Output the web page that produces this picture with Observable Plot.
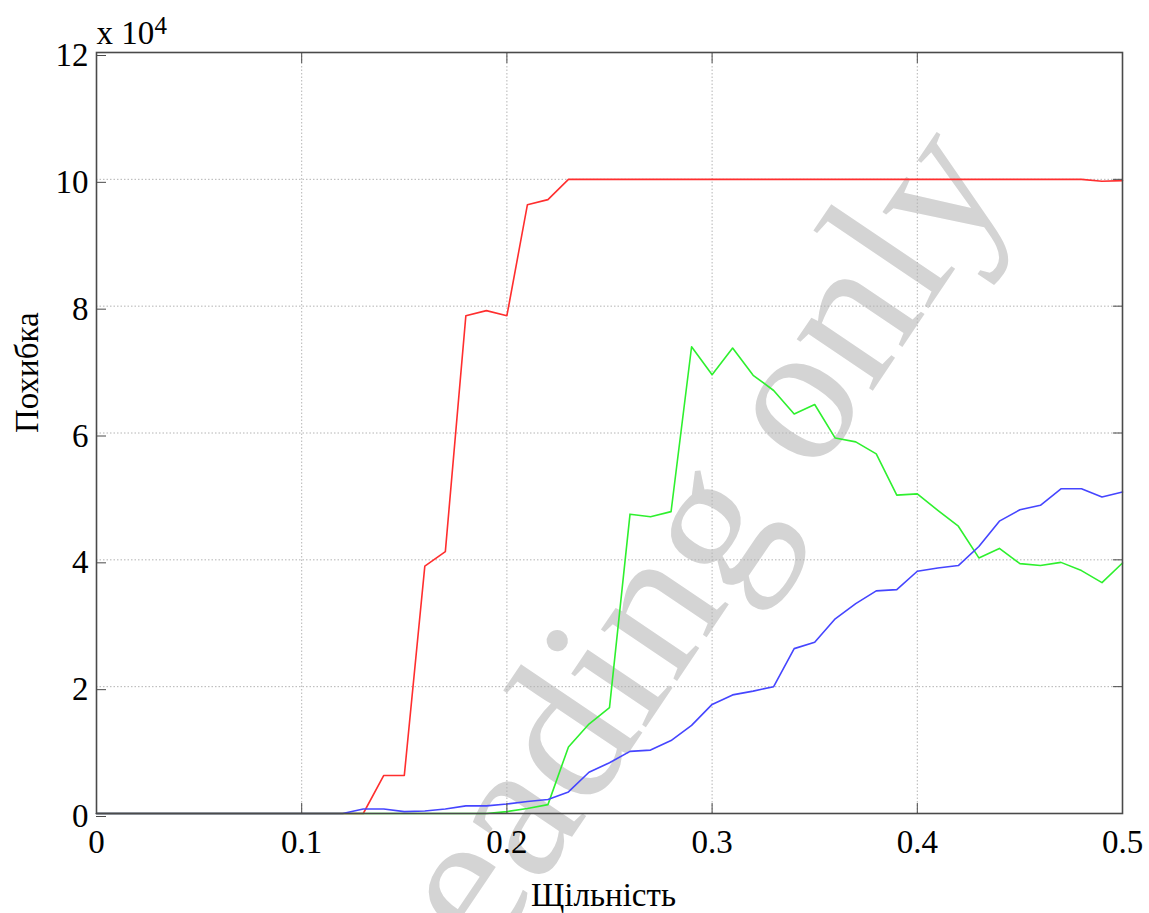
<!DOCTYPE html>
<html>
<head>
<meta charset="utf-8">
<script src="https://cdn.jsdelivr.net/npm/d3@7"></script>
<script src="https://cdn.jsdelivr.net/npm/@observablehq/plot@0.6"></script>
<style>
  html, body { margin: 0; padding: 0; background: #fff; }
  #chart svg { display: block; }
</style>
</head>
<body>
<div id="chart"></div>
<script>
// Density values (x axis)
const density = [
  0.00, 0.01, 0.02, 0.03, 0.04, 0.05, 0.06, 0.07, 0.08, 0.09,
  0.10, 0.11, 0.12, 0.13, 0.14, 0.15, 0.16, 0.17, 0.18, 0.19,
  0.20, 0.21, 0.22, 0.23, 0.24, 0.25, 0.26, 0.27, 0.28, 0.29,
  0.30, 0.31, 0.32, 0.33, 0.34, 0.35, 0.36, 0.37, 0.38, 0.39,
  0.40, 0.41, 0.42, 0.43, 0.44, 0.45, 0.46, 0.47, 0.48, 0.49, 0.50
];

// Error values, in units of 10^4
const errA = [
  0, 0, 0, 0, 0, 0, 0, 0, 0, 0,
  0, 0, 0, 0, 0.6, 0.6, 3.9, 4.13, 7.85, 7.93,
  7.85, 9.6, 9.68, 10, 10, 10, 10, 10, 10, 10,
  10, 10, 10, 10, 10, 10, 10, 10, 10, 10,
  10, 10, 10, 10, 10, 10, 10, 10, 10, 9.97, 9.98
];
const errB = [
  0, 0, 0, 0, 0, 0, 0, 0, 0, 0,
  0, 0, 0, 0, 0, 0, 0, 0, 0, 0,
  0.03, 0.08, 0.14, 1.05, 1.41, 1.67, 4.72, 4.68, 4.76, 7.36,
  6.92, 7.34, 6.91, 6.67, 6.30, 6.45, 5.92, 5.86, 5.67, 5.02,
  5.04, 4.78, 4.53, 4.03, 4.18, 3.94, 3.91, 3.96, 3.83, 3.64, 3.95
];
const errC = [
  0, 0, 0, 0, 0, 0, 0, 0, 0, 0,
  0, 0, 0, 0.07, 0.07, 0.03, 0.04, 0.07, 0.12, 0.12,
  0.15, 0.19, 0.22, 0.34, 0.65, 0.80, 0.98, 1.00, 1.15, 1.39,
  1.72, 1.87, 1.93, 2.00, 2.60, 2.70, 3.07, 3.31, 3.51, 3.53,
  3.82, 3.87, 3.91, 4.21, 4.61, 4.79, 4.86, 5.12, 5.12, 4.99, 5.07
];

const xTicks = [0, 0.1, 0.2, 0.3, 0.4, 0.5];
const yTicks = [0, 2, 4, 6, 8, 10, 12];
const xGrid = [0.1, 0.2, 0.3, 0.4];
const yGrid = [2, 4, 6, 8, 10];

const xLabel = "Щільність";
const yLabel = "Похибка";
const yExponentBase = "x 10";
const yExponent = "4";
const watermark = "Reading only";

const series = [
  {key: "A", color: "#ff2e2e", values: errA},
  {key: "B", color: "#2ef02e", values: errB},
  {key: "C", color: "#4545ff", values: errC}
];

const serif = "'Liberation Serif', 'Times New Roman', serif";
const axisColor = "#4a4a4a";

const curves = series.map(s =>
  Plot.line(density.map((d, i) => ({x: d, y: s.values[i]})), {x: "x", y: "y", stroke: s.color, strokeWidth: 1.6})
);

const chart = Plot.plot({
  width: 1149,
  height: 913,
  marginLeft: 96,
  marginRight: 27,
  marginTop: 52,
  marginBottom: 100,
  style: {fontFamily: serif, fontSize: "33px", color: "#000", background: "#fff", overflow: "visible"},
  x: {domain: [0, 0.5]},
  y: {domain: [0, 12]},
  marks: [
    // background watermark
    Plot.text([watermark], {
      frameAnchor: "middle", text: d => d, dx: 104, dy: 194,
      rotate: -56, lineAnchor: "bottom", fontSize: 200,
      fontFamily: serif, fill: "#d4d4d4"
    }),
    // dotted grid
    Plot.gridX({ticks: xGrid, stroke: "#b4b4b4", strokeOpacity: 1, strokeDasharray: "1.5,2"}),
    Plot.gridY({ticks: yGrid, stroke: "#b4b4b4", strokeOpacity: 1, strokeDasharray: "1.5,2"}),
    // error curves
    ...curves,
    // axes with inward ticks
    Plot.axisX({anchor: "bottom", ticks: xTicks, tickSize: -10, tickPadding: 26, stroke: axisColor,
      tickFormat: d => String(d), label: null, fontSize: 33}),
    Plot.axisX({anchor: "top", ticks: xTicks, tickSize: -10, stroke: axisColor, tickFormat: () => "", label: null}),
    Plot.axisY({anchor: "left", ticks: yTicks, tickSize: -10, tickPadding: 18, stroke: axisColor,
      tickFormat: d => String(d), label: null, fontSize: 33, dy: 3}),
    Plot.axisY({anchor: "right", ticks: yTicks, tickSize: -10, stroke: axisColor, tickFormat: () => "", label: null}),
    Plot.frame({stroke: axisColor, strokeWidth: 1.6}),
    // axis titles
    Plot.text([xLabel], {frameAnchor: "bottom", text: d => d, dx: -6, dy: 92, lineAnchor: "bottom", fontSize: 33}),
    Plot.text([yLabel], {frameAnchor: "left", text: d => d, dx: -59, rotate: -90, lineAnchor: "bottom", fontSize: 33}),
    // exponent of the y axis
    Plot.text([yExponentBase], {frameAnchor: "top-left", text: d => d, textAnchor: "start", dx: 0, dy: -9, lineAnchor: "bottom", fontSize: 33}),
    Plot.text([yExponent], {frameAnchor: "top-left", text: d => d, textAnchor: "start", dx: 58, dy: -19, lineAnchor: "bottom", fontSize: 25})
  ]
});

document.getElementById("chart").appendChild(chart);
</script>
</body>
</html>
